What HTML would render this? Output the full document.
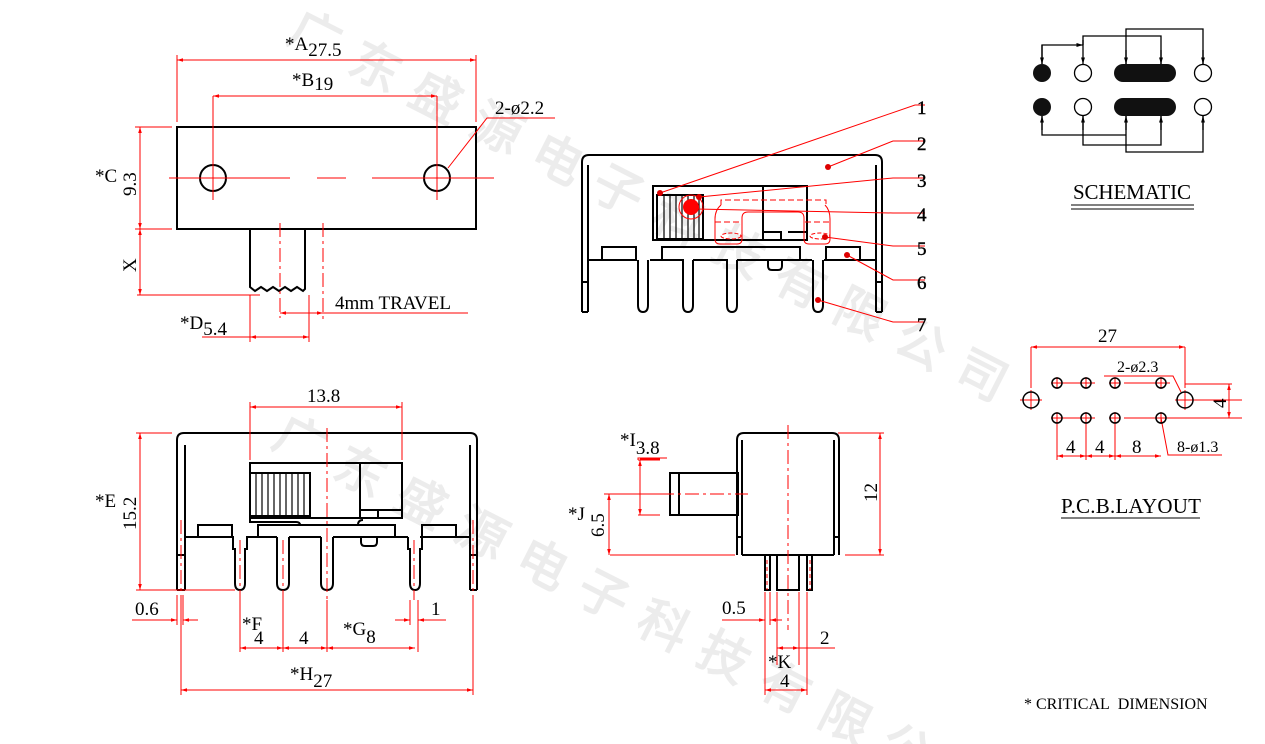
<!DOCTYPE html>
<html><head><meta charset="utf-8"><style>
html,body{margin:0;padding:0;background:#fff;width:1265px;height:744px;overflow:hidden}
svg{display:block}
text{font-family:"Liberation Serif",serif}
.k{stroke:#000;stroke-width:2;fill:none}
.r{stroke:#f00;stroke-width:1;fill:none}
.rd{stroke:#f00;stroke-width:1;fill:none;stroke-dasharray:14 4 3 4}
.rt{fill:#000;font-size:19px}
</style></head><body>
<svg width="1265" height="744" viewBox="0 0 1265 744" xmlns="http://www.w3.org/2000/svg" overflow="hidden">
<defs>
<marker id="a" viewBox="0 0 10 10" refX="10" refY="5" markerWidth="8" markerHeight="6" orient="auto-start-reverse"><path d="M0,2L10,5L0,8z" fill="#f00"/></marker>
<marker id="b" viewBox="0 0 10 10" refX="10" refY="5" markerWidth="5" markerHeight="5" orient="auto-start-reverse"><path d="M0,2L10,5L0,8z" fill="#000"/></marker>
<clipPath id="c"><rect x="0" y="0" width="1265" height="744"/></clipPath>
</defs>
<!-- watermark -->
<g clip-path="url(#c)" fill="#000" opacity="0.07" font-family="'Noto Sans CJK SC',sans-serif" font-size="50" font-weight="bold">
<text transform="translate(285,40) rotate(27)" letter-spacing="18">广东盛源电子科技有限公司</text>
<text transform="translate(270,445) rotate(27)" letter-spacing="18">广东盛源电子科技有限公司</text>
</g>

<!-- ===== TOP LEFT VIEW ===== -->
<rect x="177" y="127" width="299" height="102" class="k"/>
<circle cx="213" cy="178" r="13" class="k"/>
<circle cx="437" cy="178" r="13" class="k"/>
<line x1="169" y1="178" x2="290" y2="178" class="r"/><line x1="317" y1="178" x2="346" y2="178" class="r"/><line x1="372" y1="178" x2="494" y2="178" class="r"/>
<line x1="213" y1="96" x2="213" y2="200" class="r"/><line x1="437" y1="96" x2="437" y2="200" class="r"/>
<path d="M250,229V287l5,4 6,-4 6,4 6,-4 6,4 6,-4 6,4 6,-4 6,4 2,-2V229" class="k"/>
<line x1="280" y1="223" x2="280" y2="318" class="rd"/><line x1="323" y1="223" x2="323" y2="320" class="rd"/>
<line x1="177" y1="60" x2="476" y2="60" class="r" marker-start="url(#a)" marker-end="url(#a)"/>
<line x1="177" y1="55" x2="177" y2="122" class="r"/><line x1="476" y1="55" x2="476" y2="122" class="r"/>
<text x="285" y="50" class="rt">*A<tspan dy="6">27.5</tspan></text>
<line x1="213" y1="96" x2="437" y2="96" class="r" marker-start="url(#a)" marker-end="url(#a)"/>
<text x="292" y="86" class="rt">*B<tspan dy="4">19</tspan></text>
<path d="M448,168L487,118H555" class="r"/>
<text x="495" y="114" class="rt">2-ø2.2</text>
<line x1="135" y1="127" x2="172" y2="127" class="r"/><line x1="135" y1="229" x2="172" y2="229" class="r"/><line x1="137" y1="295" x2="260" y2="295" class="r"/>
<line x1="140" y1="127" x2="140" y2="229" class="r" marker-start="url(#a)" marker-end="url(#a)"/>
<line x1="140" y1="229" x2="140" y2="295" class="r" marker-start="url(#a)" marker-end="url(#a)"/>
<text x="95" y="182" class="rt">*C</text>
<text transform="translate(136,196) rotate(-90)" class="rt">9.3</text>
<text transform="translate(136,272) rotate(-90)" class="rt">X</text>
<line x1="250" y1="295" x2="250" y2="342" class="r"/><line x1="309" y1="295" x2="309" y2="342" class="r"/>
<line x1="202" y1="337" x2="309" y2="337" class="r"/>
<line x1="250" y1="337" x2="309" y2="337" class="r" marker-start="url(#a)" marker-end="url(#a)"/>
<text x="180" y="329" class="rt">*D<tspan dy="6">5.4</tspan></text>
<line x1="280" y1="313" x2="468" y2="313" class="r"/>
<line x1="280" y1="313" x2="323" y2="313" class="r" marker-start="url(#a)" marker-end="url(#a)"/>
<text x="335" y="309" class="rt">4mm TRAVEL</text>

<!-- ===== TOP MIDDLE SIDE VIEW ===== -->
<path d="M582,312V162q0,-7 7,-7H875q7,0 7,7V312" class="k"/>
<path d="M588,312V165M876,312V165" class="k" stroke-width="1.5"/>
<path d="M582,282H588M876,282H882M582,312H588M876,312H882" class="k" stroke-width="1.5"/>
<path d="M588,260H636M650,260H684M693,260H728M737,260H812M824,260H876" class="k"/>
<rect x="602" y="247" width="34" height="13" class="k" stroke-width="1.5"/>
<path d="M662,260V247H800V260M826,260V247H860V260" class="k" stroke-width="1.5"/>
<g class="k" stroke-width="1.5">
<path d="M638,260V305q0,7 5,7q5,0 5,-7V260"/>
<path d="M683,260V305q0,7 5,7q5,0 5,-7V260"/>
<path d="M727,260V305q0,7 5,7q5,0 5,-7V260"/>
<path d="M813,260V305q0,7 5,7q5,0 5,-7V260"/>
<path d="M768,260v6q0,4 4,4h6q4,0 4,-4v-6"/>
</g>
<rect x="653" y="186" width="154" height="54" class="k" stroke-width="1.5"/>
<line x1="763" y1="186" x2="763" y2="240" class="k" stroke-width="1.5"/>
<rect x="657" y="195" width="46" height="44" class="k" stroke-width="1.5"/>
<g stroke="#000" stroke-width="1.2"><path d="M664,195v44M670,195v44M676,195v44M682,195v44M688,195v44M694,195v44M699,195v44"/></g>
<path d="M763,232H781V240M788,232H806" class="k" stroke-width="1.5"/>
<g class="r" stroke-width="1.2">
<path d="M721,205V200H826V205" stroke-dasharray="6 3"/>
<path d="M721,205q-6,5 -6,14v20q0,5 5,5h17q5,0 5,-5V218q0,-6 6,-6h50q6,0 6,6v21q0,5 5,5h16q5,0 5,-5V219q0,-9 -5,-14"/>
<path d="M715,222H742M805,222H832" stroke-dasharray="6 3"/>
<ellipse cx="731" cy="236" rx="10" ry="3" stroke-dasharray="4 2"/>
<ellipse cx="820" cy="236" rx="10" ry="3" stroke-dasharray="4 2"/>
<circle cx="691" cy="207" r="12"/>
</g>
<circle cx="691" cy="207" r="8" fill="#f00"/>
<g stroke="#f00" stroke-width="1" fill="none">
<path d="M660,193L915,105H925"/><path d="M828,167L893,141H925"/><path d="M699,197L893,178H925"/>
<path d="M696,209L893,213H925"/><path d="M825,237L893,246H925"/><path d="M847,255L893,280H925"/><path d="M818,300L893,322H925"/>
</g>
<g fill="#d00"><circle cx="660" cy="193" r="3"/><circle cx="828" cy="167" r="3"/><circle cx="699" cy="197" r="3"/><circle cx="825" cy="237" r="3"/><circle cx="847" cy="255" r="3"/><circle cx="818" cy="300" r="3"/></g>
<g class="rt" font-size="22" stroke="#000" stroke-width="0.4"><text x="917" y="114">1</text><text x="917" y="150">2</text><text x="917" y="187">3</text><text x="917" y="221">4</text><text x="917" y="255">5</text><text x="917" y="289">6</text><text x="917" y="331">7</text></g>

<!-- ===== BOTTOM LEFT FRONT VIEW ===== -->
<path d="M177,590V440q0,-7 7,-7H470q7,0 7,7V590" class="k"/>
<path d="M185,590V445M470,590V445" class="k" stroke-width="1.5"/>
<path d="M177,555H185M470,555H477M177,590H185M470,590H477" class="k" stroke-width="1.5"/>
<path d="M185,537H234M246,537H277M289,537H321M333,537H408M420,537H470" class="k"/>
<path d="M198,537V525H232V537M422,537V525H456V537" class="k" stroke-width="1.5"/>
<path d="M258,537V525H395V537" class="k" stroke-width="1.5"/>
<g class="k" stroke-width="1.5">
<path d="M233,537v12h2V583q0,7 5,7q5,0 5,-7V549h2v-12"/>
<path d="M277,537V583q0,7 6,7q6,0 6,-7V537"/>
<path d="M321,537V583q0,7 6,7q6,0 6,-7V537"/>
<path d="M408,537v12h2V583q0,7 5,7q5,0 5,-7V549h2v-12"/>
<path d="M361,537v5q0,4 4,4h8q4,0 4,-4v-5"/>
</g>
<rect x="250" y="463" width="152" height="55" class="k" stroke-width="1.5"/>
<path d="M250,518V522H296q4,0 4,3" class="k" stroke-width="1.5"/>
<path d="M358,525q0,-5 5,-5" class="k" stroke-width="1.5"/>
<rect x="250" y="473" width="60" height="43" class="k" stroke-width="1.5"/>
<g stroke="#000" stroke-width="1.2"><path d="M256,473v43M262,473v43M268,473v43M274,473v43M280,473v43M286,473v43M292,473v43M298,473v43M304,473v43"/></g>
<path d="M360,463V510H402M360,510V518M378,510V518" class="k" stroke-width="1.5"/>
<g class="rd"><path d="M327,428V650M240,540V600M283,540V600M414,540V600M181,520V600M473,520V600"/></g>
<line x1="250" y1="407" x2="402" y2="407" class="r" marker-start="url(#a)" marker-end="url(#a)"/>
<path d="M250,402V460M402,402V460" class="r"/>
<text x="307" y="402" class="rt">13.8</text>
<line x1="136" y1="433" x2="172" y2="433" class="r"/><line x1="136" y1="590" x2="235" y2="590" class="r"/>
<line x1="140" y1="433" x2="140" y2="590" class="r" marker-start="url(#a)" marker-end="url(#a)"/>
<text x="95" y="507" class="rt">*E</text>
<text transform="translate(136,530) rotate(-90)" class="rt">15.2</text>
<path d="M177,595V625M183,595V625M181,600V695M240,600V652M283,600V652M327,600V652M410,600V625M418,600V652M473,600V695" class="r"/>
<path d="M132,620H177M183,620H197M400,620H410M418,620H446" class="r"/>
<line x1="160" y1="620" x2="177" y2="620" class="r" marker-end="url(#a)"/>
<line x1="198" y1="620" x2="183" y2="620" class="r" marker-end="url(#a)"/>
<line x1="395" y1="620" x2="410" y2="620" class="r" marker-end="url(#a)"/>
<line x1="433" y1="620" x2="418" y2="620" class="r" marker-end="url(#a)"/>
<text x="135" y="615" class="rt">0.6</text>
<text x="431" y="615" class="rt">1</text>
<line x1="240" y1="648" x2="283" y2="648" class="r" marker-start="url(#a)" marker-end="url(#a)"/>
<line x1="283" y1="648" x2="327" y2="648" class="r" marker-start="url(#a)" marker-end="url(#a)"/>
<line x1="327" y1="648" x2="415" y2="648" class="r" marker-start="url(#a)" marker-end="url(#a)"/>
<text x="242" y="630" class="rt">*F</text><text x="254" y="644" class="rt">4</text>
<text x="299" y="644" class="rt">4</text>
<text x="343" y="635" class="rt">*G<tspan dy="8">8</tspan></text>
<line x1="181" y1="690" x2="473" y2="690" class="r" marker-start="url(#a)" marker-end="url(#a)"/>
<text x="290" y="680" class="rt">*H<tspan dy="7">27</tspan></text>

<!-- ===== BOTTOM MIDDLE VIEW ===== -->
<path d="M737,555V440q0,-7 7,-7H832q7,0 7,7V555" class="k"/>
<path d="M742,555V440M834,555V440" class="k" stroke-width="1.5"/>
<path d="M742,555H834" class="k"/>
<path d="M737,537H742M834,537H839" class="k" stroke-width="1.5"/>
<rect x="670" y="473" width="68" height="42" class="k"/>
<line x1="679" y1="473" x2="679" y2="515" class="k" stroke-width="1.5"/>
<path d="M765,555V590H770V555M777,555V590H799V555M807,555V590H812V555" class="k" stroke-width="1.5"/>
<path d="M788,425V630M660,494H748" class="rd"/>
<path d="M767,560V590M810,560V590" stroke="#f00" stroke-dasharray="4 3"/>
<path d="M838,433H884M845,555H884M610,555H735M640,460H660M640,515H660M604,494H660M640,459H660" class="r"/>
<line x1="880" y1="433" x2="880" y2="555" class="r" marker-start="url(#a)" marker-end="url(#a)"/>
<text transform="translate(877,502) rotate(-90)" class="rt">12</text>
<path d="M638,460H660M638,515H660" class="r"/>
<line x1="640" y1="460" x2="640" y2="515" class="r" marker-start="url(#a)" marker-end="url(#a)"/>
<path d="M638,460V458H667" class="r"/>
<text x="620" y="446" class="rt">*I<tspan dy="8">3.8</tspan></text>
<line x1="609" y1="494" x2="609" y2="555" class="r" marker-start="url(#a)" marker-end="url(#a)"/>
<text x="568" y="520" class="rt">*J</text>
<text transform="translate(604,537) rotate(-90)" class="rt">6.5</text>
<path d="M765,592V695M770,592V625M777,592V665M799,592V665M807,592V695" class="r"/>
<path d="M722,620H765M770,620H782" class="r"/>
<line x1="752" y1="620" x2="765" y2="620" class="r" marker-end="url(#a)"/>
<line x1="782" y1="620" x2="770" y2="620" class="r" marker-end="url(#a)"/>
<text x="722" y="614" class="rt">0.5</text>
<line x1="777" y1="648" x2="799" y2="648" class="r" marker-start="url(#a)" marker-end="url(#a)"/>
<path d="M799,648H835" class="r"/>
<text x="820" y="644" class="rt">2</text>
<line x1="765" y1="690" x2="807" y2="690" class="r" marker-start="url(#a)" marker-end="url(#a)"/>
<text x="768" y="668" class="rt">*K</text><text x="780" y="687" class="rt">4</text>

<!-- ===== SCHEMATIC ===== -->
<g stroke="#000" stroke-width="1.3" fill="none">
<path d="M1042,64V45H1083" marker-end="url(#b)"/>
<line x1="1042" y1="45" x2="1042" y2="64" marker-end="url(#b)"/>
<path d="M1083,45V36H1161V64" /><line x1="1161" y1="50" x2="1161" y2="64" marker-end="url(#b)"/>
<line x1="1083" y1="40" x2="1083" y2="64" marker-end="url(#b)"/>
<path d="M1126,64V29H1203V64"/><line x1="1126" y1="50" x2="1126" y2="64" marker-end="url(#b)"/><line x1="1203" y1="50" x2="1203" y2="64" marker-end="url(#b)"/>
<path d="M1042,116V135H1126"/><line x1="1042" y1="130" x2="1042" y2="116" marker-end="url(#b)"/>
<path d="M1083,116V145H1161V116"/><line x1="1083" y1="130" x2="1083" y2="116" marker-end="url(#b)"/><line x1="1161" y1="130" x2="1161" y2="116" marker-end="url(#b)"/>
<path d="M1126,116V152H1203V116"/><line x1="1126" y1="130" x2="1126" y2="116" marker-end="url(#b)"/><line x1="1203" y1="130" x2="1203" y2="116" marker-end="url(#b)"/>
<circle cx="1083" cy="73" r="8.5"/><circle cx="1203" cy="73" r="8.5"/>
<circle cx="1083" cy="107" r="8.5"/><circle cx="1203" cy="107" r="8.5"/>
</g>
<circle cx="1042" cy="73" r="9" fill="#111"/><circle cx="1042" cy="107" r="9" fill="#111"/>
<rect x="1114" y="64" width="62" height="18" rx="9" fill="#111"/>
<rect x="1114" y="98" width="62" height="18" rx="9" fill="#111"/>
<text x="1073" y="199" font-size="21" fill="#000" textLength="118">SCHEMATIC</text>
<path d="M1071,205H1194M1071,209H1194" stroke="#000" stroke-width="1"/>

<!-- ===== PCB LAYOUT ===== -->
<path d="M1031,347V388M1185,347V388" class="r"/>
<line x1="1031" y1="347" x2="1185" y2="347" class="r" marker-start="url(#a)" marker-end="url(#a)"/>
<text x="1098" y="342" class="rt">27</text>
<g class="r">
<path d="M1051,383H1095M1109,383H1120M1124,383H1170M1051,418H1095M1109,418H1120M1124,418H1242M1020,400H1042M1175,400H1242"/>
<path d="M1031,390V410M1057,377V389M1086,377V389M1115,377V389M1161,377V389M1185,390V410"/>
<path d="M1057,412V460M1086,412V460M1115,412V460M1161,412V424"/>
<path d="M1104,376H1173L1181,392M1185,384H1232"/>
<path d="M1161,418L1168,455H1222"/>
</g>
<line x1="1229" y1="384" x2="1229" y2="418" class="r" marker-start="url(#a)" marker-end="url(#a)"/>
<text transform="translate(1226,408) rotate(-90)" class="rt">4</text>
<line x1="1057" y1="456" x2="1086" y2="456" class="r" marker-start="url(#a)" marker-end="url(#a)"/>
<line x1="1086" y1="456" x2="1115" y2="456" class="r" marker-start="url(#a)" marker-end="url(#a)"/>
<line x1="1115" y1="456" x2="1161" y2="456" class="r" marker-start="url(#a)" marker-end="url(#a)"/>
<g class="rt"><text x="1066" y="453">4</text><text x="1095" y="453">4</text><text x="1132" y="453">8</text></g>
<text x="1117" y="372" font-size="16" fill="#000">2-ø2.3</text>
<text x="1177" y="452" font-size="16" fill="#000">8-ø1.3</text>
<g stroke="#000" stroke-width="1.5" fill="none">
<circle cx="1031" cy="400" r="8"/><circle cx="1185" cy="400" r="8"/>
<circle cx="1057" cy="383" r="5"/><circle cx="1086" cy="383" r="5"/><circle cx="1115" cy="383" r="5"/><circle cx="1161" cy="383" r="5"/>
<circle cx="1057" cy="418" r="5"/><circle cx="1086" cy="418" r="5"/><circle cx="1115" cy="418" r="5"/><circle cx="1161" cy="418" r="5"/>
</g>
<text x="1061" y="513" font-size="21" fill="#000" textLength="140">P.C.B.LAYOUT</text>
<path d="M1061,518H1200" stroke="#000" stroke-width="1"/>

<text x="1024" y="709" font-size="16" fill="#000">* CRITICAL&#160; DIMENSION</text>
</svg>
</body></html>
